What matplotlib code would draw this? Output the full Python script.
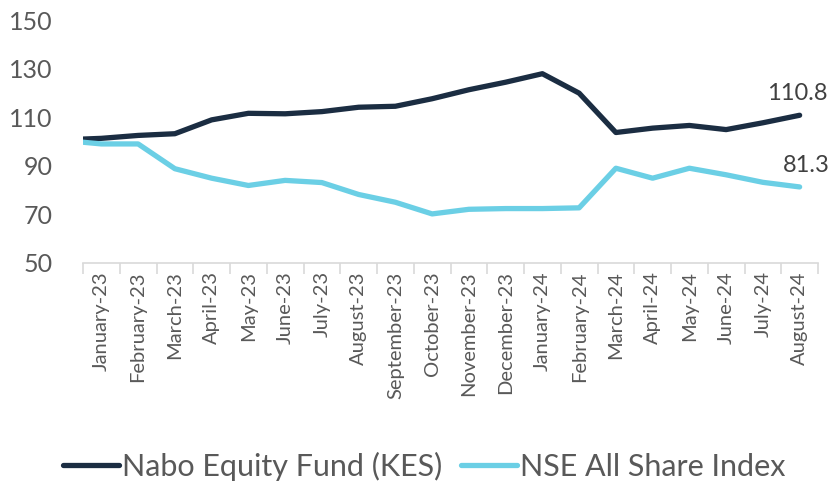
import matplotlib.pyplot as plt
from matplotlib.ticker import FixedLocator

# monthly data, rebased to 100
months = ["January-23", "February-23", "March-23", "April-23", "May-23", "June-23",
          "July-23", "August-23", "September-23", "October-23", "November-23",
          "December-23", "January-24", "February-24", "March-24", "April-24",
          "May-24", "June-24", "July-24", "August-24"]
nabo_start = 101.0
nse_start = 99.7
nabo = [101.3, 102.5, 103.2, 108.9, 111.6, 111.4, 112.3, 114.1, 114.5, 117.6,
        121.3, 124.4, 127.9, 119.9, 103.7, 105.5, 106.6, 104.9, 107.7, 110.8]
nse = [99.0, 99.0, 88.8, 84.9, 81.9, 84.0, 83.1, 78.2, 75.0, 70.2,
       72.1, 72.4, 72.4, 72.7, 89.0, 84.9, 89.0, 86.3, 83.2, 81.3]

NAVY = "#1b2d42"
CYAN = "#6bcfe5"
TXT = "#595959"

plt.rcParams['font.family'] = ['Lato', 'DejaVu Sans']

fig = plt.figure(figsize=(8.32, 4.82), dpi=100)
ax = fig.add_axes([83 / 832, 219 / 482, 735 / 832, 243 / 482])

x = [-0.5] + list(range(len(months)))
ax.plot(x, [nabo_start] + nabo, color=NAVY, lw=3.8, solid_capstyle='round',
        label="Nabo Equity Fund (KES)")
ax.plot(x, [nse_start] + nse, color=CYAN, lw=3.8, solid_capstyle='round',
        label="NSE All Share Index")

last = len(months) - 1
ax.annotate(f"{nabo[-1]:.1f}", (last, nabo[-1]), xytext=(20, 8), ha='right',
            va='bottom', textcoords='offset points', fontsize=17, color="#404040")
ax.annotate(f"{nse[-1]:.1f}", (last, nse[-1]), xytext=(22, 8), ha='right',
            va='bottom', textcoords='offset points', fontsize=17, color="#404040")

ax.set_xlim(-0.5, len(months) - 0.5)
ax.set_ylim(50, 150)
ax.set_yticks(range(50, 151, 20))
ax.set_xticks(range(len(months)))
ax.set_xticklabels(months, rotation=90, fontsize=14.5, color=TXT)
ax.xaxis.set_minor_locator(FixedLocator([i - 0.5 for i in range(len(months) + 1)]))
ax.tick_params(axis='x', which='major', length=0, pad=6)
ax.tick_params(axis='x', which='minor', length=8, color="#d9d9d9", width=1.2)
ax.tick_params(axis='y', length=0, pad=22, labelsize=18, labelcolor=TXT)

for side in ['top', 'right', 'left']:
    ax.spines[side].set_visible(False)
ax.spines['bottom'].set_color("#d9d9d9")
ax.spines['bottom'].set_linewidth(1.2)

fig.legend(loc='center', bbox_to_anchor=(0.51, 16 / 482), ncol=2, frameon=False,
           fontsize=22, handlelength=1.85, columnspacing=0.6, handletextpad=0.1,
           labelcolor=TXT, borderpad=0)

fig.savefig("out.png", dpi=100)
